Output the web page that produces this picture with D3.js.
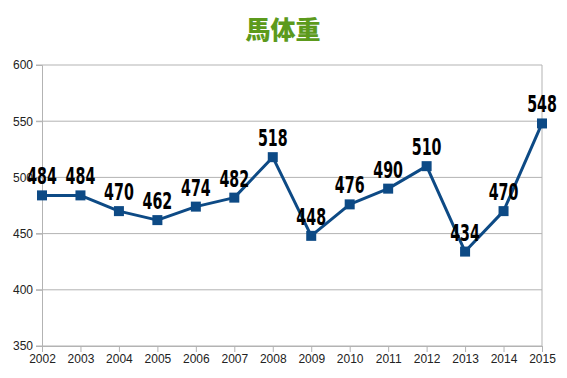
<!DOCTYPE html>
<html>
<head>
<meta charset="utf-8">
<script src="https://cdn.jsdelivr.net/npm/d3@7"></script>
<style>
  body { margin: 0; background: #fff; }
  svg { display: block; }
</style>
</head>
<body>
<div id="chart"></div>
<script>
const years = ["2002","2003","2004","2005","2006","2007","2008","2009","2010","2011","2012","2013","2014","2015"];
const weights = [484, 484, 470, 462, 474, 482, 518, 448, 476, 490, 510, 434, 470, 548];
const yTicks = [350, 400, 450, 500, 550, 600];

const width = 567, height = 378;
const margin = { top: 65, right: 25, bottom: 32, left: 42 };

const svg = d3.select("#chart").append("svg")
    .attr("width", width)
    .attr("height", height);

// Title
svg.append("text")
    .attr("x", 283).attr("y", 39)
    .attr("text-anchor", "middle")
    .style("font-family", "'Noto Sans CJK JP', sans-serif")
    .style("font-weight", "900")
    .style("font-size", "25px")
    .style("fill", "#5c9a1c")
    .text("馬体重");

const x = d3.scalePoint().domain(years).range([margin.left, width - margin.right]);
const y = d3.scaleLinear().domain([350, 600]).range([height - margin.bottom, margin.top]);

// Gridlines
svg.append("g")
    .selectAll("line")
    .data(yTicks)
    .join("line")
    .attr("x1", margin.left - 6).attr("x2", width - margin.right)
    .attr("y1", d => y(d)).attr("y2", d => y(d))
    .attr("stroke", "#b3b3b3").attr("stroke-width", 1);

// Right border
svg.append("line")
    .attr("x1", width - margin.right).attr("x2", width - margin.right)
    .attr("y1", y(600)).attr("y2", y(350))
    .attr("stroke", "#b3b3b3");

// Y axis
const yAxis = svg.append("g")
    .attr("transform", "translate(" + margin.left + ",0)")
    .call(d3.axisLeft(y).tickValues(yTicks).tickSize(6).tickPadding(3));
yAxis.select(".domain").attr("stroke", "#b3b3b3");
yAxis.selectAll(".tick line").attr("stroke", "#b3b3b3");
yAxis.selectAll("text")
    .style("font-family", "'Liberation Sans', Arial, sans-serif")
    .style("font-size", "12px").style("fill", "#222");

// X axis
const xAxis = svg.append("g")
    .attr("transform", "translate(0," + y(350) + ")")
    .call(d3.axisBottom(x).tickSize(6).tickPadding(2));
xAxis.select(".domain").attr("stroke", "#b3b3b3");
xAxis.selectAll(".tick line").attr("stroke", "#b3b3b3");
xAxis.selectAll("text")
    .style("font-family", "'Liberation Sans', Arial, sans-serif")
    .style("font-size", "12px").style("fill", "#222");

const data = years.map((yr, i) => ({ year: yr, value: weights[i] }));

// Line
svg.append("path")
    .datum(data)
    .attr("fill", "none")
    .attr("stroke", "#0d4a85")
    .attr("stroke-width", 3)
    .attr("stroke-linejoin", "round")
    .attr("d", d3.line().x(d => x(d.year)).y(d => y(d.value)));

// Markers
svg.append("g")
    .selectAll("rect")
    .data(data)
    .join("rect")
    .attr("x", d => x(d.year) - 5)
    .attr("y", d => y(d.value) - 5)
    .attr("width", 10).attr("height", 10)
    .attr("fill", "#0d4a85");

// Value labels (narrow, tall digits)
svg.append("g")
    .selectAll("text")
    .data(data)
    .join("text")
    .attr("transform", d => "translate(" + x(d.year) + "," + (y(d.value) - 11) + ") scale(0.62,1)")
    .attr("text-anchor", "middle")
    .style("font-family", "'DejaVu Sans', sans-serif")
    .style("font-weight", "bold")
    .style("font-size", "23px")
    .style("fill", "#000")
    .text(d => d.value);
</script>
</body>
</html>
